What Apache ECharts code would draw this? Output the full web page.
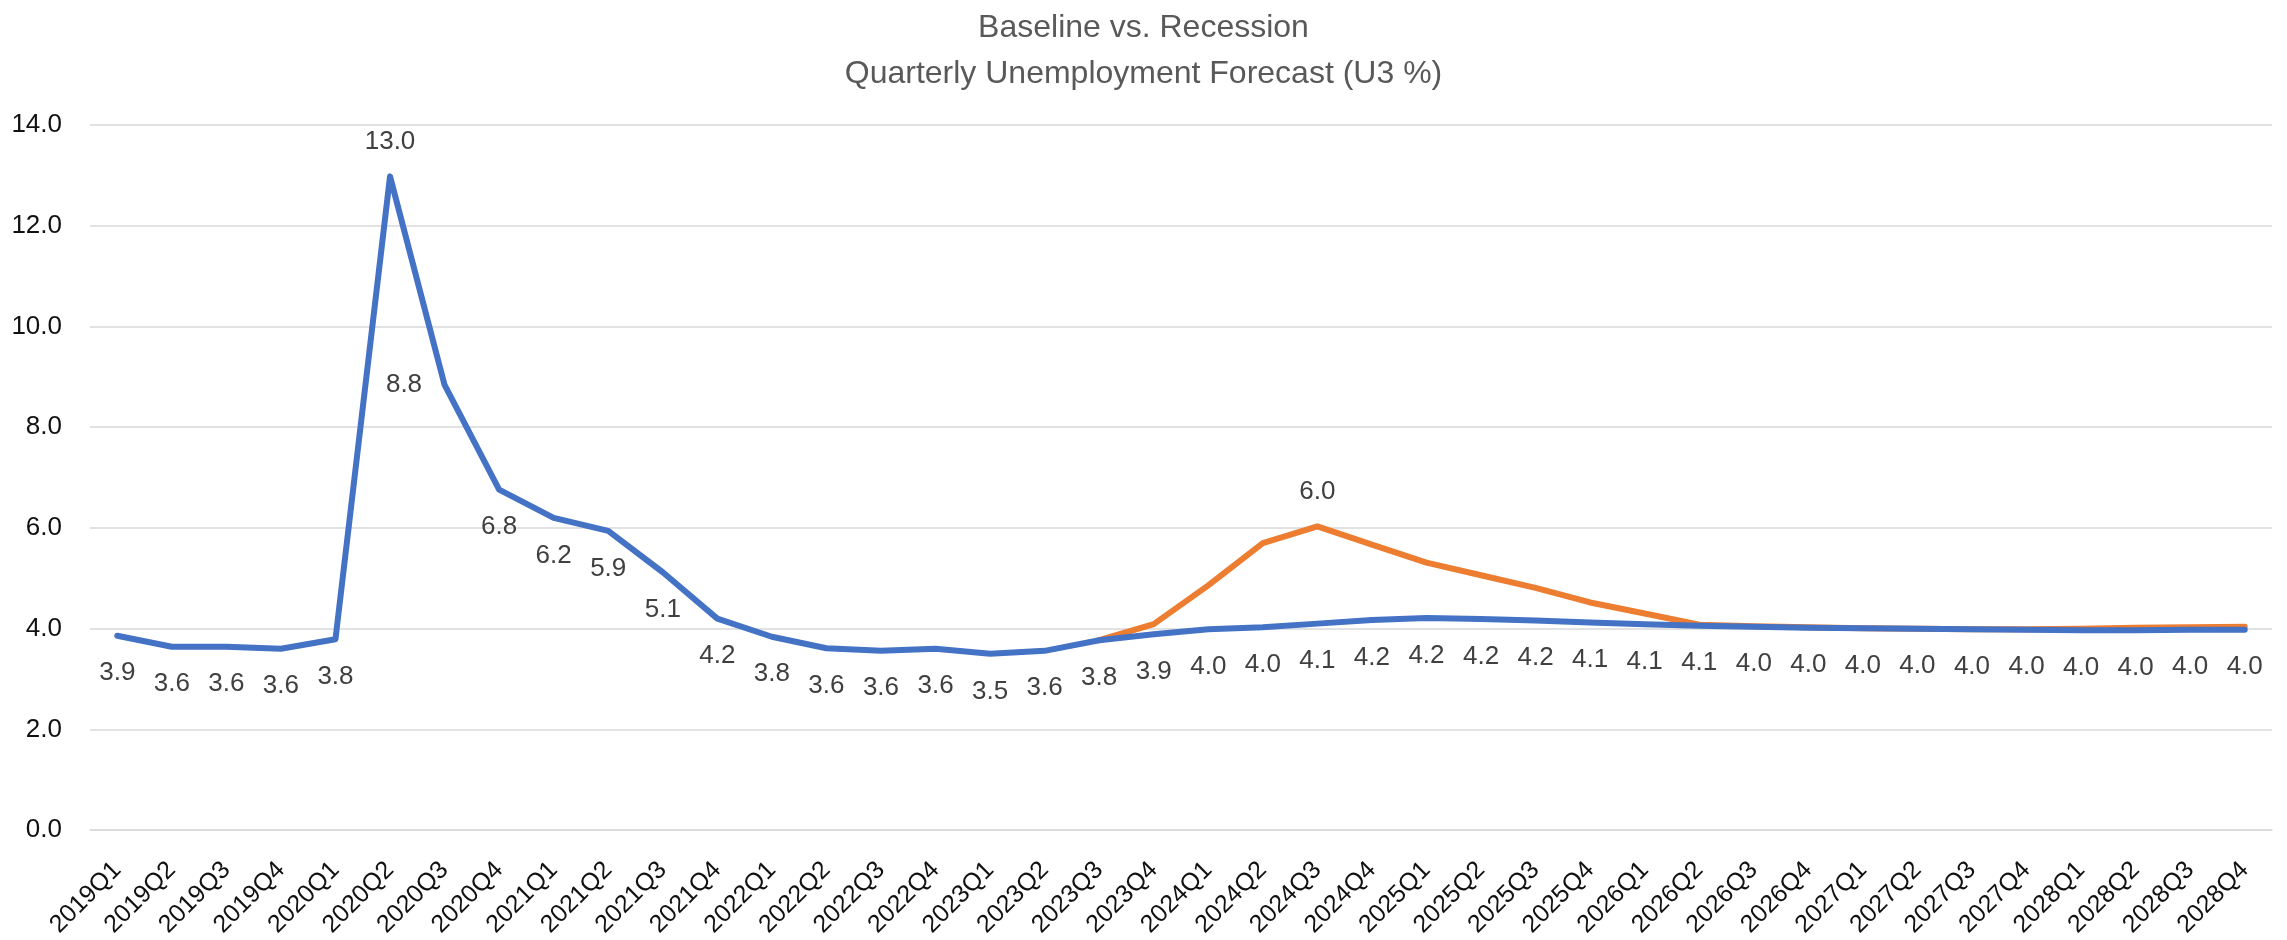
<!DOCTYPE html>
<html>
<head>
<meta charset="utf-8">
<title>Baseline vs. Recession</title>
<script src="https://cdn.jsdelivr.net/npm/echarts@6/dist/echarts.min.js"></script>
<style>
  html, body { margin: 0; padding: 0; background: #ffffff; }
  #chart { width: 2287px; height: 940px; }
</style>
</head>
<body>
<div id="chart"></div>
<script>
// Quarter labels along the x axis
var quarters = [
  '2019Q1','2019Q2','2019Q3','2019Q4',
  '2020Q1','2020Q2','2020Q3','2020Q4',
  '2021Q1','2021Q2','2021Q3','2021Q4',
  '2022Q1','2022Q2','2022Q3','2022Q4',
  '2023Q1','2023Q2','2023Q3','2023Q4',
  '2024Q1','2024Q2','2024Q3','2024Q4',
  '2025Q1','2025Q2','2025Q3','2025Q4',
  '2026Q1','2026Q2','2026Q3','2026Q4',
  '2027Q1','2027Q2','2027Q3','2027Q4',
  '2028Q1','2028Q2','2028Q3','2028Q4'
];

// Baseline U3 unemployment rate, %
var baseline = [
  3.86, 3.64, 3.64, 3.60,
  3.79, 12.98, 8.84, 6.76,
  6.20, 5.94, 5.12, 4.20,
  3.84, 3.61, 3.56, 3.60,
  3.50, 3.56, 3.77, 3.89,
  3.99, 4.03, 4.10, 4.17,
  4.21, 4.19, 4.16, 4.12,
  4.09, 4.06, 4.04, 4.02,
  4.01, 4.00, 3.99, 3.98,
  3.97, 3.97, 3.98, 3.98
];

// Recession scenario, diverging from the baseline from 2023Q3 on
var recession = [
  null, null, null, null,
  null, null, null, null,
  null, null, null, null,
  null, null, null, null,
  null, null, 3.77, 4.09,
  4.86, 5.70, 6.03, 5.67,
  5.31, 5.06, 4.81, 4.52,
  4.30, 4.08, 4.05, 4.03,
  4.01, 4.00, 3.99, 3.99,
  4.00, 4.02, 4.03, 4.04
];

// Y axis range
var yMin = 0, yMax = 14, yStep = 2;

var FONT = '"Liberation Sans", Arial, sans-serif';
var LABEL_COLOR = '#404040';
var AXIS_COLOR = '#111111';

function argMax(arr) {
  var best = -1;
  arr.forEach(function (v, i) {
    if (v != null && (best < 0 || v > arr[best])) best = i;
  });
  return best;
}

var basePeak = argMax(baseline);
var recPeak = argMax(recession);

// Baseline: every point labelled below the line, except the spike
// (label above) and the quarter right after it (label to the left).
var baselineData = baseline.map(function (v, i) {
  var pos = 'bottom', dist = 24;
  if (i === basePeak) { pos = 'top'; dist = 21; }
  else if (i === basePeak + 1) { pos = 'left'; dist = 22; }
  return { value: v, label: { position: pos, distance: dist } };
});

// Recession: only the peak carries a label
var recessionData = recession.map(function (v, i) {
  return {
    value: v,
    label: { show: i === recPeak, position: 'top', distance: 21 }
  };
});

var chart = echarts.init(document.getElementById('chart'), null, { renderer: 'canvas' });

chart.setOption({
  animation: false,
  backgroundColor: '#ffffff',
  title: {
    text: 'Baseline vs. Recession\nQuarterly Unemployment Forecast (U3 %)',
    left: 'center',
    top: 0,
    textStyle: {
      fontFamily: FONT,
      fontSize: 32,
      fontWeight: 'normal',
      color: '#595959',
      lineHeight: 46
    }
  },
  grid: { left: 90, right: 15, top: 125, bottom: 108 },
  xAxis: {
    type: 'category',
    data: quarters,
    boundaryGap: true,
    axisLine: { show: true, lineStyle: { color: '#d9d9d9', width: 1.5 } },
    axisTick: { show: false },
    axisLabel: {
      interval: 0,
      rotate: 45,
      margin: 36,
      fontFamily: FONT,
      fontSize: 25,
      color: AXIS_COLOR
    }
  },
  yAxis: {
    type: 'value',
    min: yMin,
    max: yMax,
    interval: yStep,
    axisLine: { show: false },
    axisTick: { show: false },
    splitLine: { lineStyle: { color: '#d9d9d9', width: 1.5 } },
    axisLabel: {
      margin: 28,
      fontFamily: FONT,
      fontSize: 26,
      color: AXIS_COLOR,
      formatter: function (v) { return v.toFixed(1); }
    }
  },
  series: [
    {
      name: 'Recession',
      type: 'line',
      data: recessionData,
      symbol: 'circle',
      symbolSize: 1,
      showSymbol: true,
      connectNulls: false,
      lineStyle: { color: '#ED7D31', width: 6, cap: 'round', join: 'round' },
      itemStyle: { color: '#ED7D31' },
      label: {
        fontFamily: FONT,
        fontSize: 26,
        color: LABEL_COLOR,
        formatter: function (p) { return Number(p.value).toFixed(1); }
      },
      emphasis: { disabled: true },
      z: 2
    },
    {
      name: 'Baseline',
      type: 'line',
      data: baselineData,
      symbol: 'circle',
      symbolSize: 1,
      showSymbol: true,
      lineStyle: { color: '#4472C4', width: 6, cap: 'round', join: 'round' },
      itemStyle: { color: '#4472C4' },
      label: {
        show: true,
        fontFamily: FONT,
        fontSize: 26,
        color: LABEL_COLOR,
        formatter: function (p) { return Number(p.value).toFixed(1); }
      },
      emphasis: { disabled: true },
      z: 3
    }
  ]
});
</script>
</body>
</html>
